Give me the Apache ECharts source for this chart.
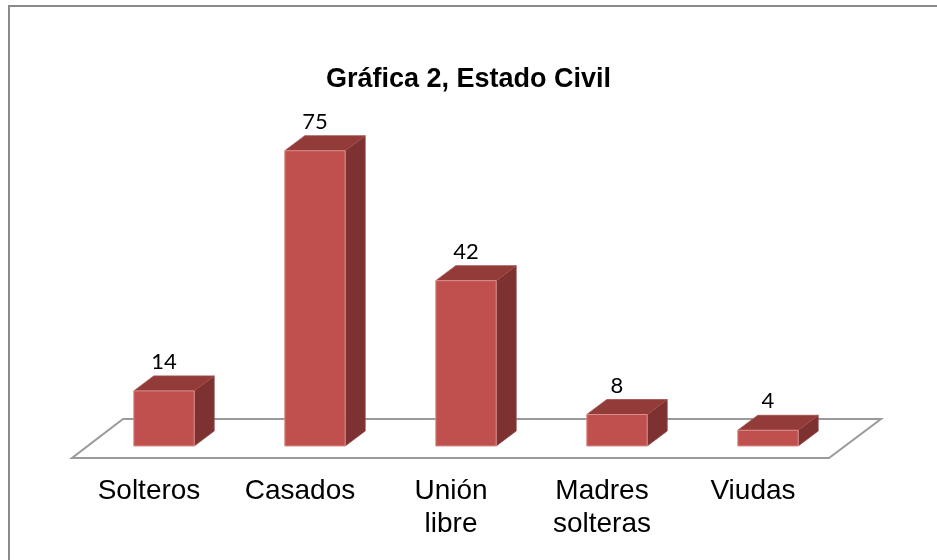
<!DOCTYPE html>
<html>
<head>
<meta charset="utf-8">
<script src="https://cdn.jsdelivr.net/npm/echarts@6/dist/echarts.min.js"></script>
<style>html,body{margin:0;padding:0;background:#fff;}#c{width:937px;height:560px;}</style>
</head>
<body>
<div id="c"></div>
<script>
var titleText = 'Gráfica 2, Estado Civil';
var categories = ['Solteros', 'Casados', 'Unión\nlibre', 'Madres\nsolteras', 'Viudas'];
var values = [14, 75, 42, 8, 4];

var chart = echarts.init(document.getElementById('c'), null, {renderer: 'canvas'});
var DX = 20, DY = -15;

var barData = values.map(function (v, i) { return [i, v]; });

var option = {
  animation: false,
  backgroundColor: '#ffffff',
  title: {
    text: titleText,
    left: 'center',
    top: 61,
    textStyle: {fontFamily: 'Liberation Sans', fontWeight: 'bold', fontSize: 27, color: '#000'}
  },
  graphic: [{
    type: 'rect', shape: {x: 9, y: 6, width: 1000, height: 1000},
    style: {fill: 'none', stroke: '#8a8a8a', lineWidth: 2}, silent: true
  }],
  grid: {left: 88.5, right: 93.5, top: 131, bottom: 114},
  xAxis: {
    type: 'category',
    data: categories,
    axisLine: {show: false},
    axisTick: {show: false},
    axisLabel: {
      interval: 0, margin: 29, color: '#000',
      fontFamily: 'Liberation Sans', fontSize: 28, lineHeight: 33,
      padding: [0, 30, 0, 0]
    }
  },
  yAxis: {type: 'value', min: 0, max: 80, show: false, splitLine: {show: false}},
  series: [
    {
      type: 'custom',
      data: [[0, 0]],
      z: 1,
      renderItem: function (params, api) {
        var cs = params.coordSys;
        var baseY = cs.y + cs.height;
        var L = cs.x, R = cs.x + cs.width;
        return {
          type: 'polygon',
          shape: {points: [
            [L - 16.5, baseY + 12], [R - 14.5, baseY + 12],
            [R + 37.5, baseY - 27], [L + 34.5, baseY - 27]
          ]},
          style: {fill: 'none', stroke: '#9a9a9a', lineWidth: 2}
        };
      }
    },
    {
      type: 'custom',
      data: barData,
      z: 2,
      encode: {x: 0, y: 1},
      renderItem: function (params, api) {
        var idx = api.value(0), val = api.value(1);
        var top = api.coord([idx, val]);
        var base = api.coord([idx, 0]);
        var bw = api.size([1, 0])[0] * 0.4;
        var x0 = base[0] - bw / 2, x1 = base[0] + bw / 2;
        var yT = top[1], yB = base[1];
        return {
          type: 'group',
          children: [
            {type: 'polygon', shape: {points: [[x1, yB], [x1 + DX, yB + DY], [x1 + DX, yT + DY], [x1, yT]]},
             style: {fill: '#7D3130', stroke: '#8c4a48', lineWidth: 0.8}},
            {type: 'polygon', shape: {points: [[x0, yT], [x1, yT], [x1 + DX, yT + DY], [x0 + DX, yT + DY]]},
             style: {fill: '#923B39', stroke: '#a04f4d', lineWidth: 0.8}},
            {type: 'rect', shape: {x: x0, y: yT, width: bw, height: yB - yT},
             style: {fill: '#C0504D', stroke: '#d98f8c', lineWidth: 1}},
            {type: 'text', x: base[0], y: yT + DY - 3,
             style: {text: String(val), align: 'center', verticalAlign: 'bottom',
                     fontFamily: 'Lato', fontSize: 22, fill: '#000'}}
          ]
        };
      }
    }
  ]
};
chart.setOption(option);
</script>
</body>
</html>
